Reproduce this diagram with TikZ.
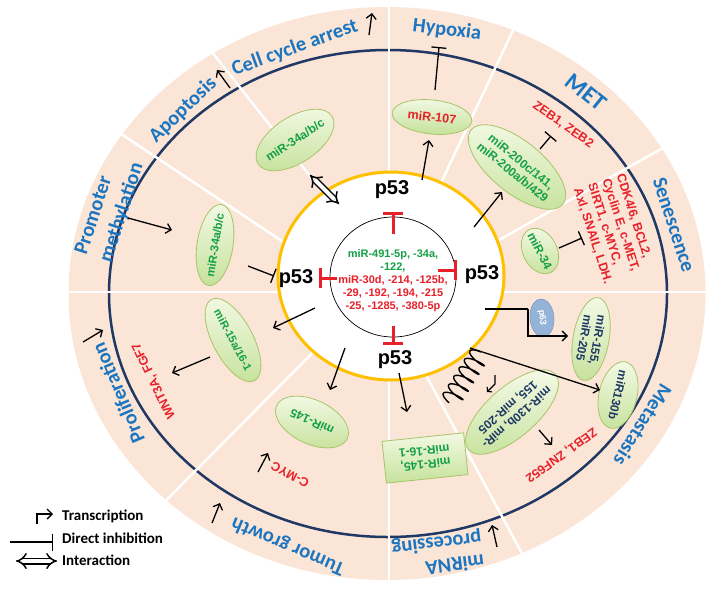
\documentclass[tikz,border=0pt]{standalone}
\usepackage{fontspec}
\setmainfont{Liberation Sans}
\newfontfamily\calfont{Carlito}
\usetikzlibrary{arrows.meta,shapes.geometric}
\definecolor{peach}{HTML}{FBE5D6}
\definecolor{navy}{HTML}{1F3864}
\definecolor{gold}{HTML}{FFC000}
\definecolor{lblue}{HTML}{1B75C0}
\definecolor{mgreen}{HTML}{14A046}
\definecolor{mred}{HTML}{E8202A}
\definecolor{ntext}{HTML}{1F3864}
\definecolor{lgone}{HTML}{F3F9E4}
\definecolor{lgtwo}{HTML}{C6E29C}
\definecolor{lgb}{HTML}{A8C46A}
\definecolor{pfill}{HTML}{95B3D7}
\definecolor{pborder}{HTML}{6A8CC0}
\begin{document}
\begin{tikzpicture}[x=1pt,y=-1pt,
  sector/.style={font=\calfont\bfseries\fontsize{20.5}{22.6}\selectfont, text=lblue, inner sep=0pt},
  mir/.style={ellipse, draw=lgb, line width=0.8pt, top color=lgone, bottom color=lgtwo, inner sep=-4pt, font=\bfseries\fontsize{12}{13.5}\selectfont, align=center},
  redlab/.style={font=\bfseries\fontsize{12.5}{15}\selectfont, text=mred, inner sep=0pt, align=center},
  arr/.style={line width=1.3pt, -{Straight Barb[length=5pt,width=10pt]}},
  inh/.style={line width=1.3pt, -{Bar[width=15pt]}},
  rinh/.style={line width=3pt, draw=mred, -{Bar[width=20pt]}},
  sep/.style={white, line width=2.5pt},
  pfs/.style={font=\bfseries\fontsize{20}{20}\selectfont, inner sep=0pt},
  leg/.style={font=\calfont\bfseries\fontsize{15}{15}\selectfont, anchor=west, inner sep=0pt},
  inter/.style={line width=1.5pt, double=white, double distance=4pt, {Implies}-{Implies}},
  pnode/.style={ellipse, draw=pborder, fill=pfill, minimum width=38pt, minimum height=24pt, text=white, font=\bfseries\fontsize{9}{9}\selectfont, inner sep=0pt},
]
\useasboundingbox (0,0) rectangle (714,595);
% disk
\fill[peach] (387,293.5) ellipse [x radius=318.5, y radius=286.5];
\draw[navy, line width=2.5pt] (388,293.5) ellipse [x radius=279, y radius=243.5];
\begin{scope}
\clip (387,293.5) ellipse [x radius=318.5, y radius=286.5];
\draw[sep] (389,293) -- (389,-10);
\draw[sep] (389,293) -- (532,-10);
\draw[sep] (440,273) -- (720,116);
\draw[sep] (390,292) -- (720,292);
\draw[sep] (60,292) -- (390,292);
\draw[sep] (399,325) -- (547,600);
\draw[sep] (389,293) -- (389,600);
\draw[sep] (367,298) -- (67,600);
\draw[sep] (342,281) -- (40,80);
\draw[sep] (351,228) -- (163,-10);
\end{scope}
\draw[gold, line width=3pt, fill=white] (391,276) ellipse [x radius=113, y radius=104];
\draw[black, line width=0.7pt] (393,277) ellipse [x radius=63, y radius=60];

% sector labels
\node[sector, rotate=20] (lcell) at (295,48) {Cell cycle arrest};
\node[sector, rotate=44] (lapo) at (183,110) {Apoptosis};
\node[sector, rotate=72, align=left, font=\calfont\bfseries\fontsize{20.5}{26}\selectfont] (lprom) at (110,209) {Promoter\\methylation};
\node[sector, rotate=-7] (lhyp) at (447,30) {Hypoxia};
\node[sector, rotate=-39, font=\calfont\bfseries\fontsize{24}{24}\selectfont] (lmet) at (586,92) {MET};
\node[sector, rotate=-72] (lsen) at (674,225) {Senescence};
\node[sector, rotate=-122] (lmeta) at (643,425) {Metastasis};
\node[sector, rotate=187, align=left] (lmirna) at (438,554) {miRNA\\processing};
\node[sector, rotate=157] (ltum) at (288,546) {Tumor growth};
\node[sector, rotate=113] (lpro) at (118,393) {Proliferation};

% inner text
\node[align=center, font=\bfseries\fontsize{11}{13}\selectfont, inner sep=0pt] (inner) at (393,281)
 {\textcolor{mgreen}{miR-491-5p, -34a,}\\\textcolor{mgreen}{-122,}\\\textcolor{mred}{miR-30d, -214, -125b,}\\\textcolor{mred}{-29, -192, -194, -215}\\\textcolor{mred}{-25, -1285, -380-5p}};

% p53
\node[pfs] (ptop) at (392,190) {p53};
\node[pfs] (pleft) at (296,279) {p53};
\node[pfs] (pright) at (482,275) {p53};
\node[pfs] (pbot) at (395,360) {p53};
\coordinate (ri1) at (393,234); \coordinate (ro1) at (393,212);
\coordinate (ri2) at (337,278); \coordinate (ro2) at (319,278);
\coordinate (ri3) at (438,270); \coordinate (ro3) at (457,270);
\coordinate (ri4) at (393,326); \coordinate (ro4) at (393,345);
\draw[rinh] (ri1) -- (ro1);
\draw[rinh] (ri2) -- (ro2);
\draw[rinh] (ri3) -- (ro3);
\draw[rinh] (ri4) -- (ro4);

% miR nodes
\node[mir, text=mgreen, minimum width=88pt, minimum height=46pt, rotate=33] (e1) at (295,140) {miR-34a/b/c};
\node[mir, text=mgreen, minimum width=82pt, minimum height=36pt, rotate=81, font=\bfseries\fontsize{11.5}{13}\selectfont] (e2) at (215,245) {miR-34a/b/c};
\node[mir, text=mred, minimum width=80pt, minimum height=34pt, rotate=-6, font=\bfseries\fontsize{12.5}{13.5}\selectfont] (e3) at (432,117) {miR-107};
\node[mir, text=mgreen, minimum width=118pt, minimum height=52pt, rotate=-39] (e4) at (517,167) {miR-200c/141,\\miR-200a/b/429};
\node[mir, text=mgreen, minimum width=48pt, minimum height=34pt, rotate=-63] (e5) at (540,251) {miR-34};
\node[mir, text=ntext, minimum width=84pt, minimum height=36pt, rotate=-100] (e6) at (591,339) {miR-155,\\miR-205};
\node[mir, text=ntext, minimum width=68pt, minimum height=38pt, rotate=-103] (e7) at (618,395) {miR130b};
\node[mir, text=ntext, minimum width=115pt, minimum height=50pt, rotate=-139] (e8) at (512,412) {miR-130b, miR-\\155, miR-205};
\node[mir, rectangle, text=mgreen, minimum width=82pt, minimum height=42pt, rotate=186] (r1) at (425,458) {miR-145,\\miR-16-1};
\node[mir, text=mgreen, minimum width=78pt, minimum height=44pt, rotate=155] (e9) at (312,422) {miR-145};
\node[mir, text=mgreen, minimum width=92pt, minimum height=40pt, rotate=-62, font=\bfseries\fontsize{11}{13}\selectfont] (e10) at (233,340) {miR-15a/16-1};

% red labels
\node[redlab, rotate=-35] (zebab) at (563,125) {ZEB1, ZEB2};
\node[redlab, rotate=-72, align=left] (cdk) at (614,229) {CDK4/6, BCL2,\\Cyclin E, c-MET,\\SIRT1, c-MYC,\\Axl, SNAIL, LDH.};
\node[redlab, rotate=-144] (zebz) at (561,455) {ZEB1, ZNF652};
\node[redlab, rotate=116] (wnt) at (154,381) {WNT3A, FGF7};
\node[redlab, rotate=152] (cmyc) at (290,475) {C-MYC};

% coordinates for connectors
\coordinate (a1s) at (230,88);  \coordinate (a1t) at (217,70);
\coordinate (a2s) at (369,35);  \coordinate (a2t) at (372,13);
\coordinate (h1s) at (435,90);  \coordinate (h1t) at (439,47);
\coordinate (a3s) at (128,218); \coordinate (a3t) at (172,230);
\coordinate (a4s) at (83,342);  \coordinate (a4t) at (103,330);
\coordinate (a5s) at (212,523); \coordinate (a5t) at (220,503);
\coordinate (a6s) at (497,547); \coordinate (a6t) at (492,525);
\coordinate (b1s) at (422,180); \coordinate (b1t) at (429,140);
\coordinate (b2s) at (474,227); \coordinate (b2t) at (502,192);
\coordinate (i1s) at (248,266); \coordinate (i1t) at (274,276);
\coordinate (b3s) at (315,308); \coordinate (b3t) at (273,328);
\coordinate (b4s) at (210,357); \coordinate (b4t) at (172,373);
\coordinate (b5s) at (345,348); \coordinate (b5t) at (330,390);
\coordinate (b6s) at (258,472); \coordinate (b6t) at (268,453);
\coordinate (b7s) at (399,373); \coordinate (b7t) at (407,412);
\coordinate (b8s) at (539,430); \coordinate (b8t) at (552,445);
\coordinate (b9s) at (470,348); \coordinate (b9t) at (600,390);
\coordinate (q1) at (485,309);  \coordinate (q2) at (528,309); \coordinate (q3) at (528,336); \coordinate (q4) at (568,336);
\coordinate (i2s) at (540,149); \coordinate (i2t) at (551,136);
\coordinate (i3s) at (559,248); \coordinate (i3t) at (582,238);
\coordinate (c1) at (481,352);
\coordinate (s1) at (495,375);  \coordinate (s2) at (495,384); \coordinate (s3) at (487,392);
\coordinate (d1) at (310,175);  \coordinate (d2) at (339,204);

% connectors
\draw[arr] (a1s) -- (a1t);
\draw[arr] (a2s) -- (a2t);
\draw[inh] (h1s) -- (h1t);
\draw[arr] (a3s) -- (a3t);
\draw[arr] (a4s) -- (a4t);
\draw[arr] (a5s) -- (a5t);
\draw[arr] (a6s) -- (a6t);
\draw[arr] (b1s) -- (b1t);
\draw[arr] (b2s) -- (b2t);
\draw[inh] (i1s) -- (i1t);
\draw[arr] (b3s) -- (b3t);
\draw[arr] (b4s) -- (b4t);
\draw[arr] (b5s) -- (b5t);
\draw[arr] (b6s) -- (b6t);
\draw[arr] (b7s) -- (b7t);
\draw[arr] (b8s) -- (b8t);
\draw[arr] (b9s) -- (b9t);
\draw[line width=1.3pt] (q1) -- (q2);
\node[pnode, rotate=-85] (p63) at (542,318) {p63};
\draw[arr] (q2) -- (q3) -- (q4);
\draw[inh] (i2s) -- (i2t);
\draw[inh] (i3s) -- (i3t);
% coil
\begin{scope}[shift={(c1)}, rotate=-122]
\draw[line width=1.4pt, line join=round] plot[domain=0:5.5, samples=260, smooth] ({\x*10+2.5-2.5*cos(\x*360)}, {10*sin(\x*360)});
\end{scope}
\draw[line width=1.1pt, -{Straight Barb[length=3pt,width=7pt]}] (s1) -- (s2) -- (s3);
\draw[inter] (d1) -- (d2);

% legend
\coordinate (l1a) at (37,524); \coordinate (l1b) at (53,514);
\coordinate (l2a) at (10,542); \coordinate (l2b) at (53,542);
\coordinate (l3a) at (16,561); \coordinate (l3b) at (57,561);
\draw[arr] (l1a) |- (l1b);
\node[leg] (ltr) at (62,516) {Transcription};
\draw[inh, -{Bar[width=17pt]}] (l2a) -- (l2b);
\node[leg] (ldi) at (62,538) {Direct inhibition};
\draw[inter] (l3a) -- (l3b);
\node[leg] (lin) at (62,560) {Interaction};
\end{tikzpicture}
\end{document}
